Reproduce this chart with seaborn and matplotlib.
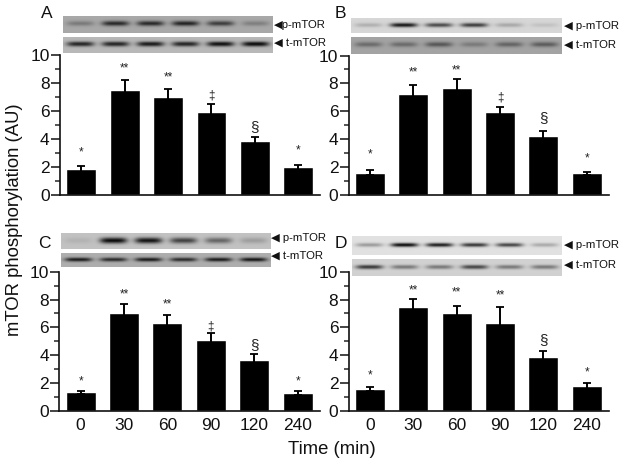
import numpy as np
import pandas as pd
import matplotlib
matplotlib.use("Agg")
import matplotlib.pyplot as plt
import seaborn as sns

times = ["0", "30", "60", "90", "120", "240"]
marks_abd = ["*", "**", "**", "‡", "§", "*"]
marks_d = ["*", "**", "**", "**", "§", "*"]

a_vals = [1.9, 7.5, 7.05, 5.95, 3.85, 2.0]
a_errs = [0.22, 0.75, 0.57, 0.55, 0.31, 0.2]
a_mark_y = [3.1, 9.05, 8.45, 7.15, 4.9, 3.2]
b_vals = [1.6, 7.25, 7.65, 5.95, 4.25, 1.55]
b_errs = [0.2, 0.6, 0.65, 0.37, 0.35, 0.12]
b_mark_y = [2.9, 8.8, 8.95, 6.95, 5.5, 2.6]
c_vals = [1.35, 7.05, 6.35, 5.1, 3.65, 1.3]
c_errs = [0.1, 0.6, 0.55, 0.5, 0.45, 0.15]
c_mark_y = [2.15, 8.4, 7.65, 6.1, 4.7, 2.15]
d_vals = [1.55, 7.45, 7.0, 6.3, 3.85, 1.8]
d_errs = [0.15, 0.57, 0.55, 1.15, 0.45, 0.2]
d_mark_y = [2.55, 8.65, 8.5, 8.3, 5.1, 2.8]

# blot band darkness per lane
a_p_bands = [0.18, 0.5, 0.5, 0.52, 0.42, 0.16]
a_t_bands = [0.58, 0.58, 0.62, 0.58, 0.66, 0.68]
b_p_bands = [0.15, 0.75, 0.55, 0.6, 0.18, 0.08]
b_t_bands = [0.22, 0.22, 0.3, 0.16, 0.25, 0.28]
c_p_bands = [0.06, 0.72, 0.68, 0.5, 0.36, 0.14]
c_t_bands = [0.58, 0.52, 0.58, 0.52, 0.58, 0.6]
d_p_bands = [0.28, 0.85, 0.78, 0.68, 0.62, 0.22]
d_t_bands = [0.6, 0.35, 0.35, 0.55, 0.35, 0.35]

W, H = 624, 466
sns.set_style("ticks")
plt.rcParams["font.family"] = ["Liberation Sans", "DejaVu Sans"]
fig = plt.figure(figsize=(W / 100, H / 100), dpi=100, facecolor="white")


def px_axes(x0, y0, x1, y1):
    return fig.add_axes([x0 / W, 1 - y1 / H, (x1 - x0) / W, (y1 - y0) / H])


def panel(box, vals, errs, marks, mark_y, xlabels):
    ax = px_axes(*box)
    df = pd.DataFrame({"time": times, "value": vals})
    sns.barplot(data=df, x="time", y="value", order=times, color="black",
                saturation=1, width=0.69, errorbar=None, ax=ax)
    ax.errorbar(range(6), vals, yerr=errs, fmt="none", ecolor="black",
                elinewidth=1.4, capsize=3.0, capthick=1.3)
    for i, (m, y) in enumerate(zip(marks, mark_y)):
        big = m == "§"
        ax.text(i, y, m, ha="center", va="center", fontsize=11 if big else 8.5, color="#222222")
    ax.set_xlim(-0.49, 5.5)
    ax.set_ylim(0, 10)
    ax.set_yticks([0, 2, 4, 6, 8, 10])
    ax.set_yticks([1, 3, 5, 7, 9], minor=True)
    ax.tick_params(axis="y", which="major", length=6.5, width=1.1, labelsize=12.5, pad=1, colors="#111111")
    ax.tick_params(axis="y", which="minor", length=3.5, width=1.1)
    ax.tick_params(axis="x", length=0, labelsize=12.5, pad=5, labelbottom=xlabels, colors="#111111")
    ax.set_xlabel("")
    ax.set_ylabel("")
    for s in ("top", "right"):
        ax.spines[s].set_visible(False)
    for s in ("left", "bottom"):
        ax.spines[s].set_linewidth(1.2)
        ax.spines[s].set_color("#111111")
    ax.patch.set_alpha(0)
    return ax


def blot(box, bands, bg, band_h=0.14):
    ax = px_axes(*box)
    w, h = 210, 20
    xs = (np.arange(w) + 0.5) / w
    ys = (np.arange(h) + 0.5) / h
    img = np.full((h, w), float(bg))
    for i, d in enumerate(bands):
        cx = (i + 0.5) / 6
        xprof = np.exp(-((xs - cx) / 0.065) ** 4)
        yprof = np.exp(-((ys - 0.47) / band_h) ** 2)
        img -= np.outer(yprof, xprof) * d
    ax.imshow(np.clip(img, 0, 1), cmap="gray", vmin=0, vmax=1, aspect="auto", interpolation="bilinear")
    ax.axis("off")


panel((60, 55.5, 320, 195.3), a_vals, a_errs, marks_abd, a_mark_y, False)
panel((348.7, 55.5, 608.5, 194.8), b_vals, b_errs, marks_abd, b_mark_y, False)
panel((59.3, 271.7, 319.5, 411), c_vals, c_errs, marks_abd, c_mark_y, True)
panel((348.7, 271.7, 608.5, 411), d_vals, d_errs, marks_d, d_mark_y, True)

blot((63, 15.7, 272.7, 33.3), a_p_bands, 0.66)
blot((63, 36.7, 272.7, 53), a_t_bands, 0.72)
blot((351, 18.3, 561.7, 33.3), b_p_bands, 0.84)
blot((351, 36.7, 561.7, 54.3), b_t_bands, 0.64)
blot((61, 233.3, 271, 249), c_p_bands, 0.76, 0.18)
blot((61, 253.3, 271, 267.3), c_t_bands, 0.68)
blot((351.7, 236, 561, 255), d_p_bands, 0.88, 0.1)
blot((351.7, 259.3, 561, 275.7), d_t_bands, 0.82, 0.12)


def ptext(x, y, s, **kw):
    kw.setdefault("va", "center")
    fig.text(x / W, 1 - y / H, s, **kw)


for x, y, s in [(41, 13, "A"), (335, 14, "B"), (38, 243, "C"), (335, 243, "D")]:
    ptext(x, y, s, fontsize=12.5, color="#111111")

for x, y, s in [(274, 25.5, "◀p-mTOR"), (274, 42.5, "◀ t-mTOR"),
                (564, 26, "◀ p-mTOR"), (564, 45, "◀ t-mTOR"),
                (271, 238, "◀ p-mTOR"), (271, 256, "◀ t-mTOR"),
                (564, 245, "◀ p-mTOR"), (564, 264.5, "◀ t-mTOR")]:
    ptext(x, y, s, fontsize=8.2, color="#111111")

ptext(15, 220, "mTOR phosphorylation (AU)", rotation=90, ha="center", fontsize=13.3, color="#111111")
ptext(332, 450, "Time (min)", ha="center", fontsize=13.3, color="#111111")

fig.savefig("out.png", dpi=100)
